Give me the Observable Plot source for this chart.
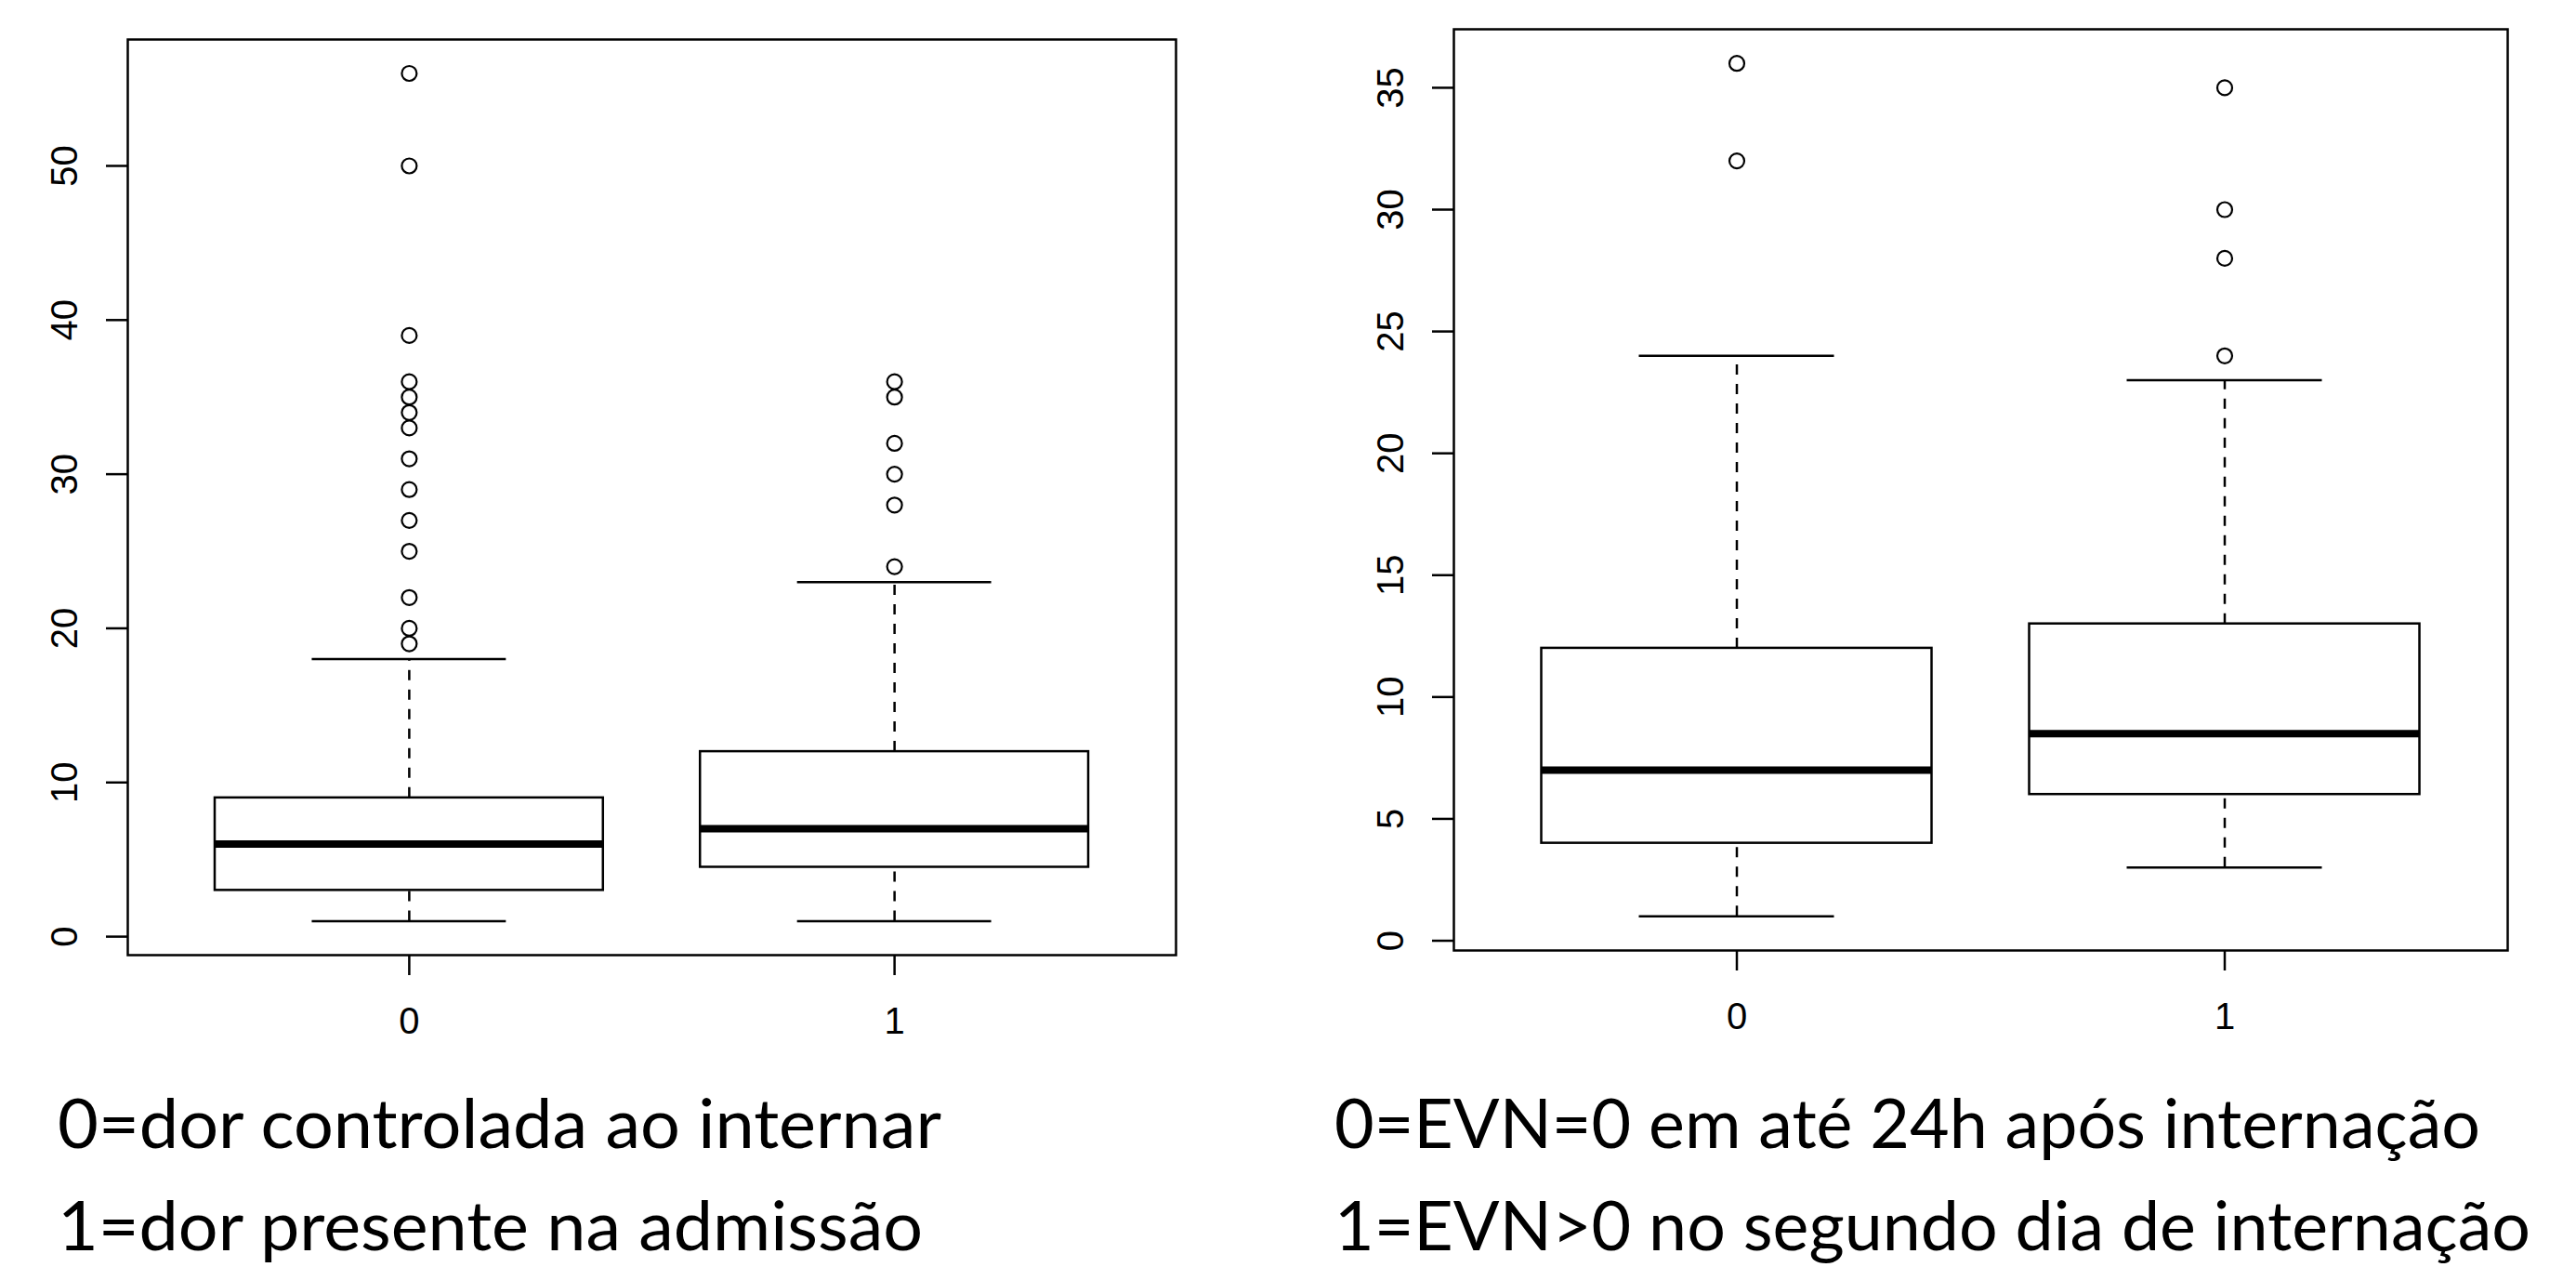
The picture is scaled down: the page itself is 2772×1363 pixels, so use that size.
<!DOCTYPE html>
<html><head><meta charset="utf-8">
<script src="https://cdn.jsdelivr.net/npm/d3@7"></script>
<script src="https://cdn.jsdelivr.net/npm/@observablehq/plot@0.6"></script>
<style>
html,body{margin:0;padding:0;background:#fff;}
#wrap{position:relative;width:2772px;height:1363px;overflow:hidden;background:#fff;}
.panel{position:absolute;top:0;}
#cap{position:absolute;left:0;top:1130px;}
</style></head><body><div id="wrap"></div>
<script>
// ---- data ----
const categories = ["0", "1"];

const leftLower  = [1, 1];
const leftQ1     = [3, 4.5];
const leftMedian = [6, 7];
const leftQ3     = [9, 12];
const leftUpper  = [18, 23];
const leftOutliers = [
  [56, 50, 39, 36, 35, 34, 33, 31, 29, 27, 25, 22, 20, 19],
  [36, 35, 32, 30, 28, 24]
];
const leftTicks = [0, 10, 20, 30, 40, 50];

const rightLower  = [1, 3];
const rightQ1     = [4, 6];
const rightMedian = [7, 8.5];
const rightQ3     = [12, 13];
const rightUpper  = [24, 23];
const rightOutliers = [
  [36, 32],
  [35, 30, 28, 24]
];
const rightTicks = [0, 5, 10, 15, 20, 25, 30, 35];

const captionLeft  = ["0=dor controlada ao internar", "1=dor presente na admissão"];
const captionRight = ["0=EVN=0 em até 24h após internação", "1=EVN>0 no segundo dia de internação"];

// ---- drawing ----
function panel({lower, q1, median, q3, upper, outliers, ticks, yDomain, width, height, mL, mR, mT, mB}) {
  const rows = categories.map((c, i) => ({cat: c, pos: i + 1, lower: lower[i], q1: q1[i], median: median[i], q3: q3[i], upper: upper[i]}));
  const out = categories.flatMap((c, i) => outliers[i].map(v => ({pos: i + 1, value: v})));
  const lw = 2.5;
  return Plot.plot({
    width, height,
    marginLeft: mL, marginRight: mR, marginTop: mT, marginBottom: mB,
    style: {fontFamily: "'Liberation Sans', Arial, sans-serif", fontSize: "40px", background: "white", color: "black"},
    x: {domain: [0.42, 2.58]},
    y: {domain: yDomain},
    marks: [
      Plot.ruleX(rows, {x: "pos", y1: "q3", y2: "upper", stroke: "black", strokeWidth: lw, strokeDasharray: "11,10"}),
      Plot.ruleX(rows, {x: "pos", y1: "lower", y2: "q1", stroke: "black", strokeWidth: lw, strokeDasharray: "11,10"}),
      Plot.ruleY(rows, {y: "upper", x1: d => d.pos - 0.2, x2: d => d.pos + 0.2, stroke: "black", strokeWidth: lw}),
      Plot.ruleY(rows, {y: "lower", x1: d => d.pos - 0.2, x2: d => d.pos + 0.2, stroke: "black", strokeWidth: lw}),
      Plot.rect(rows, {x1: d => d.pos - 0.4, x2: d => d.pos + 0.4, y1: "q1", y2: "q3", fill: "white", stroke: "black", strokeWidth: lw}),
      Plot.ruleY(rows, {y: "median", x1: d => d.pos - 0.4, x2: d => d.pos + 0.4, stroke: "black", strokeWidth: 8}),
      Plot.dot(out, {x: "pos", y: "value", r: 8, fill: "none", stroke: "black", strokeWidth: 2.2}),
      Plot.frame({stroke: "black", strokeWidth: lw}),
      Plot.axisX({ticks: [1, 2], tickFormat: d => categories[d - 1], tickSize: 22, tickPadding: 34, strokeWidth: lw, label: null}),
      Plot.axisY({ticks, tickSize: 23, tickRotate: -90, tickPadding: 32, strokeWidth: lw, label: null})
    ]
  });
}

const wrap = document.getElementById("wrap");

const L = panel({lower: leftLower, q1: leftQ1, median: leftMedian, q3: leftQ3, upper: leftUpper, outliers: leftOutliers,
  ticks: leftTicks, yDomain: [-1.2, 58.2], width: 1300, height: 1130, mL: 137, mR: 35, mT: 42, mB: 103});
L.classList.add("panel"); L.style.left = "0px";
wrap.appendChild(L);

const R = panel({lower: rightLower, q1: rightQ1, median: rightMedian, q3: rightQ3, upper: rightUpper, outliers: rightOutliers,
  ticks: rightTicks, yDomain: [-0.4, 37.4], width: 1352, height: 1130, mL: 144, mR: 74, mT: 31, mB: 108});
R.classList.add("panel"); R.style.left = "1420px";
wrap.appendChild(R);

// caption
const NS = "http://www.w3.org/2000/svg";
const cap = document.createElementNS(NS, "svg");
cap.setAttribute("id", "cap");
cap.setAttribute("width", 2772);
cap.setAttribute("height", 233);
const capSpecs = [
  {text: captionLeft[0], x: 62, y: 105, len: 951},
  {text: captionLeft[1], x: 62, y: 215, len: 931},
  {text: captionRight[0], x: 1436, y: 105, len: 1233},
  {text: captionRight[1], x: 1436, y: 215, len: 1287}
];
for (const s of capSpecs) {
  const t = document.createElementNS(NS, "text");
  t.setAttribute("x", s.x);
  t.setAttribute("y", s.y);
  t.setAttribute("textLength", s.len);
  t.setAttribute("lengthAdjust", "spacingAndGlyphs");
  t.setAttribute("font-family", "Lato, 'Open Sans', sans-serif");
  t.setAttribute("font-size", 74);
  t.setAttribute("fill", "black");
  t.textContent = s.text;
  cap.appendChild(t);
}
wrap.appendChild(cap);
</script>
</body></html>
